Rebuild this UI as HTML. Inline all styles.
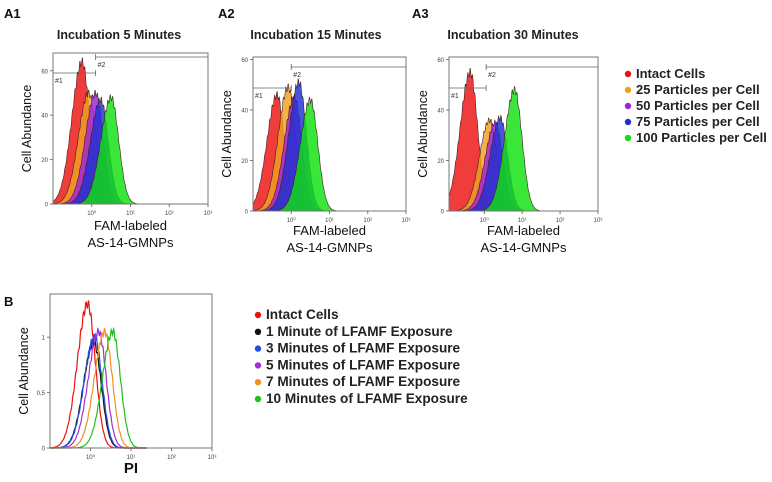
<!DOCTYPE html>
<html><head><meta charset="utf-8"><style>
body{margin:0;background:#fff;font-family:"Liberation Sans",sans-serif}
svg text{font-family:"Liberation Sans",sans-serif}
</style></head><body>
<svg id="s" width="772" height="477" viewBox="0 0 772 477">
<g font-weight="bold" font-size="13" fill="#111">
<text x="4" y="18">A1</text>
<text x="218" y="18">A2</text>
<text x="412" y="18">A3</text>
<text x="4" y="306">B</text>
</g>
<g font-size="12.5" font-weight="bold" fill="#222">
<text x="119" y="39" text-anchor="middle">Incubation 5 Minutes</text>
<text x="316" y="39" text-anchor="middle">Incubation 15 Minutes</text>
<text x="513" y="39" text-anchor="middle">Incubation 30 Minutes</text>
</g>
<g id="plots"></g>
<g font-size="13" font-weight="bold" fill="#222" id="legA"></g>
<g font-size="13.6" font-weight="bold" fill="#222" id="legB"></g>
</svg>
<script>
const ns="http://www.w3.org/2000/svg";
const aColors=["#ee1111","#f0a020","#a020e0","#2030d0","#10e010"];
const aLabels=["Intact Cells","25 Particles per Cell","50 Particles per Cell","75 Particles per Cell","100 Particles per Cell"];
// peak centers (log10 units) and heights per panel
const a1Centers=[-0.25,-0.08,0.1,0.23,0.5];
const a1Heights=[64,50,50,47,48];
const a2Centers=[-0.37,-0.08,0.08,0.2,0.5];
const a2Heights=[46,49,45,51,44];
const a3Centers=[-0.37,0.14,0.29,0.42,0.8];
const a3Heights=[55,36,35,37,48];
const aYTicks=[0,20,40,60];
const xTickLabels=["10⁰","10¹","10²","10³"];
const bColors=["#ee1111","#111111","#2050e0","#a030d0","#f09020","#20c020"];
const bLabels=["Intact Cells","1 Minute of LFAMF Exposure","3 Minutes of LFAMF Exposure","5 Minutes of LFAMF Exposure","7 Minutes of LFAMF Exposure","10 Minutes of LFAMF Exposure"];
const bCenters=[-0.07,0.08,0.1,0.2,0.35,0.55];
const bHeights=[1.3,0.95,1.0,1.05,1.05,1.05];
const bYTicks=[0,0.5,1];
const bYTickLabels=["0","0,5","1"];

const root=document.getElementById('plots');
function el(t,a,p){const e=document.createElementNS(ns,t);for(const k in a)e.setAttribute(k,a[k]);(p||root).appendChild(e);return e;}

function panel(cfg){
  const g=el('g',{});
  
  
  const {x0,x1,y0,y1,ymax,xmin,xmax}=cfg;
  const sx=v=>x0+(v-xmin)/(xmax-xmin)*(x1-x0);
  const sy=v=>y1-v/ymax*(y1-y0);
  cfg.centers.forEach((c,i)=>{
    let d="";
    const end=xmin+2.4;
    for(let v=xmin;v<=end;v+=0.01){
      const s=v<c?cfg.sig*1.15:cfg.sig*0.85;
      const z=(v-c)/s;
      const h=cfg.heights[i]*Math.exp(-z*z/2)*(1+0.03*Math.sin(v*97+i*3));
      d+=(d?"L":"M")+sx(v).toFixed(1)+","+sy(Math.max(0,h)).toFixed(1);
    }
    const p=el('path',{},g);
    if(cfg.fill){
      p.setAttribute('d',d+"L"+sx(end)+","+y1+"L"+x0+","+y1+"Z");
      p.setAttribute('fill',cfg.colors[i]);p.setAttribute('fill-opacity','0.82');
      p.setAttribute('stroke','#402020');p.setAttribute('stroke-width','0.6');
    }else{
      p.setAttribute('d',d);p.setAttribute('fill','none');
      p.setAttribute('stroke',cfg.colors[i]);p.setAttribute('stroke-width','1.2');
    }
    
    
  });
  const box=el('rect',{x:x0,y:y0,width:x1-x0,height:y1-y0,fill:'none',stroke:'#777','stroke-width':1},g);
  
  
  cfg.yticks.forEach((t,i)=>{
    el('line',{x1:x0-3,x2:x0,y1:sy(t),y2:sy(t),stroke:'#777'},g);
    const tx=el('text',{x:x0-5,y:sy(t)+2.5,'font-size':6,'text-anchor':'end',fill:'#444'},g);
    tx.textContent=cfg.ytl?cfg.ytl[i]:t;
    
    
  });
  xTickLabels.forEach((l,i)=>{
    el('line',{x1:sx(i),x2:sx(i),y1:y1,y2:y1+3,stroke:'#777'},g);
    const tx=el('text',{x:sx(i),y:y1+11,'font-size':6,'text-anchor':'middle',fill:'#444'},g);
    tx.textContent=l;
    
    
  });
  const yl=el('text',{x:0,y:0,'font-size':12.5,'text-anchor':'middle',fill:'#111',transform:`translate(${x0-22},${(y0+y1)/2}) rotate(-90)`},g);
  yl.textContent="Cell Abundance";
  
  
  cfg.xtitle.forEach((t,i)=>{
    const xt=el('text',{x:(x0+x1)/2,y:y1+cfg.xoff+i*17,'font-size':cfg.xfs,'text-anchor':'middle',fill:'#111','font-weight':cfg.xfw},g);
    xt.textContent=t;
    
    
  });
  if(cfg.gates){
    const [g1,g2]=cfg.gates;
    el('path',{d:`M${x0},${g1}H${sx(cfg.gx)}M${sx(cfg.gx)},${g1-3}V${g1+3}`,fill:'none',stroke:'#666','stroke-width':0.8},g);
    el('path',{d:`M${sx(cfg.gx)},${g2+3}V${g2-3}M${sx(cfg.gx)},${g2}H${x1}`,fill:'none',stroke:'#666','stroke-width':0.8},g);
    const t1=el('text',{x:x0+2,y:g1+10,'font-size':7,fill:'#333'},g);t1.textContent="#1";
    
    const t2=el('text',{x:sx(cfg.gx)+2,y:g2+10,'font-size':7,fill:'#333'},g);t2.textContent="#2";
    
  }
}
const common={xmin:-1,xmax:3,sig:0.23,fill:true,colors:aColors,yticks:aYTicks,xtitle:["FAM-labeled","AS-14-GMNPs"],xfs:13,xfw:'normal',xoff:26};
panel({...common,name:'panel-a1',x0:53,x1:208,y0:53,y1:204,ymax:68,centers:a1Centers,heights:a1Heights,gates:[73,57],gx:0.1});
panel({...common,name:'panel-a2',x0:253,x1:406,y0:57,y1:211,ymax:61,centers:a2Centers,heights:a2Heights,gates:[88,67],gx:0.0,xoff:24});
panel({...common,name:'panel-a3',x0:449,x1:598,xmin:-0.93,xmax:3,y0:57,y1:211,ymax:61,centers:a3Centers,heights:a3Heights,gates:[88,67],gx:0.05,xoff:24});
panel({xmin:-1,xmax:3,sig:0.22,fill:false,colors:bColors,yticks:bYTicks,ytl:bYTickLabels,xtitle:["PI"],xfs:15,xfw:'bold',xoff:25,
  name:'panel-b',x0:50,x1:212,y0:294,y1:448,ymax:1.39,centers:bCenters,heights:bHeights});

function legend(id,x,y,dy,cols,labs){
  const g=document.getElementById(id);
  cols.forEach((c,i)=>{
    const e=el('g',{},g);
    
    
    el('circle',{cx:x,cy:y+i*dy-4,r:3.2,fill:c},e);
    const t=el('text',{x:x+8,y:y+i*dy},e);t.textContent=labs[i];
  });
}
legend('legA',628,78,16,aColors,aLabels);
legend('legB',258,319,16.8,bColors,bLabels);
</script>
</body></html>
